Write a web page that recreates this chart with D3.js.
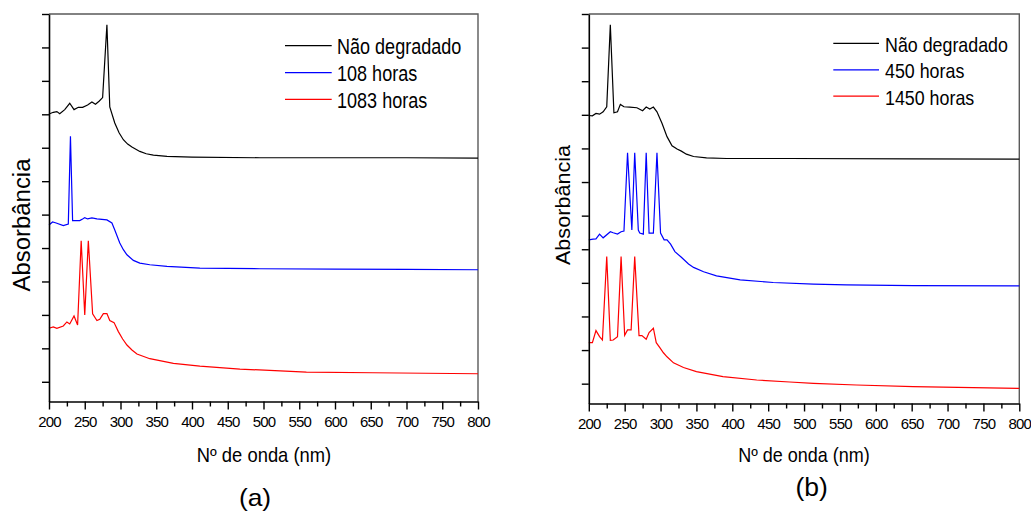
<!DOCTYPE html>
<html>
<head>
<meta charset="utf-8">
<script src="https://cdn.jsdelivr.net/npm/d3@7"></script>
<style>
  body { margin: 0; background: #fff; }
  svg { display: block; }
  text { font-family: "Liberation Sans", Arial, Helvetica, sans-serif; fill: #000; }
</style>
</head>
<body>
<svg id="chart" width="1031" height="512"></svg>
<script>
// Axis ticks
const wavelengthTicks = d3.range(200, 801, 50);
const wavelengthMinorTicks = d3.range(225, 800, 50);
const absorbanceTicks = d3.range(0, 12);

// Legends and colours
const seriesLabelsA = ["Não degradado", "108 horas", "1083 horas"];
const seriesLabelsB = ["Não degradado", "450 horas", "1450 horas"];
const seriesColors = ["#000000", "#0000ff", "#ff0000"];

// Panel (a): UV-vis spectra, offset absorbance, [nm, A]
const naoDegradadoA = [
  [200, 8.01], [206, 8.06], [211, 8.08], [215, 8.02], [222, 8.14], [229, 8.33], [235, 8.14],
  [241, 8.21], [247, 8.21], [254, 8.28], [260, 8.37], [265, 8.30], [270, 8.39], [275, 8.50],
  [281, 10.68], [285, 8.22], [292, 7.74], [298, 7.45], [304, 7.24], [310, 7.11], [316, 7.02],
  [327, 6.89], [336, 6.82], [346, 6.78], [365, 6.74], [400, 6.72], [495, 6.70], [600, 6.70],
  [700, 6.70], [800, 6.69]
];
const horas108 = [
  [200, 4.69], [205, 4.78], [210, 4.75], [220, 4.67], [227, 4.72], [230, 7.34], [233, 4.82],
  [243, 4.82], [247, 4.87], [250, 4.91], [254, 4.87], [260, 4.90], [267, 4.87], [281, 4.84],
  [288, 4.75], [292, 4.54], [299, 4.15], [304, 3.95], [309, 3.80], [318, 3.63], [327, 3.55],
  [341, 3.50], [365, 3.45], [411, 3.40], [495, 3.38], [600, 3.37], [700, 3.36], [800, 3.35]
];
const horas1083 = [
  [200, 1.60], [206, 1.64], [211, 1.60], [220, 1.67], [225, 1.79], [229, 1.73], [235, 1.97],
  [240, 1.70], [245, 4.22], [250, 2.00], [255, 4.22], [261, 2.03], [267, 1.83], [271, 1.87],
  [276, 2.04], [281, 2.04], [285, 1.83], [291, 1.77], [297, 1.50], [303, 1.28], [309, 1.10],
  [316, 0.95], [323, 0.83], [341, 0.69], [374, 0.55], [411, 0.47], [467, 0.38], [560, 0.29],
  [653, 0.27], [800, 0.24]
];

// Panel (b)
const naoDegradadoB = [
  [200, 7.98], [205, 7.97], [210, 8.04], [215, 8.02], [220, 8.09], [225, 8.24], [230, 10.68],
  [235, 8.06], [240, 8.09], [244, 8.31], [249, 8.24], [257, 8.23], [267, 8.21], [275, 8.12],
  [280, 8.23], [285, 8.17], [290, 8.23], [295, 8.09], [302, 7.75], [309, 7.35], [316, 7.08],
  [323, 6.98], [329, 6.92], [336, 6.83], [346, 6.76], [364, 6.72], [392, 6.70], [480, 6.70],
  [650, 6.69], [800, 6.68]
];
const horas450 = [
  [200, 4.28], [206, 4.30], [210, 4.31], [215, 4.45], [220, 4.34], [230, 4.52], [234, 4.49],
  [240, 4.45], [245, 4.52], [249, 4.54], [254, 6.87], [260, 4.57], [264, 6.87], [269, 4.57],
  [271, 4.48], [276, 4.45], [280, 6.87], [284, 4.48], [290, 4.48], [295, 6.87], [300, 4.48],
  [305, 4.28], [309, 4.28], [314, 4.15], [320, 3.93], [329, 3.76], [339, 3.56], [346, 3.46],
  [360, 3.33], [378, 3.21], [411, 3.09], [457, 3.01], [513, 2.96], [559, 2.94], [652, 2.92],
  [800, 2.91]
];
const horas1450 = [
  [200, 1.22], [205, 1.22], [210, 1.58], [215, 1.40], [219, 1.30], [225, 3.78], [230, 1.29],
  [234, 1.30], [240, 1.40], [245, 3.78], [250, 1.44], [254, 1.60], [259, 1.60], [264, 3.78],
  [270, 1.43], [274, 1.43], [280, 1.32], [284, 1.52], [290, 1.65], [294, 1.22], [299, 1.07],
  [304, 0.92], [309, 0.80], [318, 0.62], [332, 0.48], [350, 0.36], [387, 0.21], [434, 0.11],
  [480, 0.05], [513, 0.01], [573, -0.04], [652, -0.09], [800, -0.14]
];

const panels = [
  {
    series: [naoDegradadoA, horas108, horas1083], labels: seriesLabelsA,
    left: 49, right: 478, top: 14, bottom: 401.5,
    legend: { x0: 285, x1: 331.7, tx: 337, y: [45.7, 72.7, 99.3], size: 22, sx: 0.82 },
    yTitle: { x: 29.5, y: 225, size: 23, sx: 1.04 },
    xTitle: { x: 264, y: 461.7, size: 20, sx: 0.92 },
    tag: { text: "(a)", x: 255, y: 505.5, size: 24, sx: 1.1 }
  },
  {
    series: [naoDegradadoB, horas450, horas1450], labels: seriesLabelsB,
    left: 588.8, right: 1019.3, top: 14, bottom: 403.5,
    legend: { x0: 833.3, x1: 879, tx: 885, y: [43.3, 69.8, 96.2], size: 21, sx: 0.85 },
    yTitle: { x: 570, y: 205, size: 21, sx: 1.03 },
    xTitle: { x: 804, y: 461.7, size: 20, sx: 0.9 },
    tag: { text: "(b)", x: 811.7, y: 496, size: 26.5, sx: 1.0 }
  }
];

const svg = d3.select("#chart");

function addText(g, str, x, y, size, sx, rotate) {
  return g.append("text")
    .attr("text-anchor", "middle")
    .attr("font-size", size)
    .attr("transform", `translate(${x},${y})` + (rotate ? ` rotate(${rotate})` : "") + ` scale(${sx},1)`)
    .text(str);
}

panels.forEach(p => {
  const g = svg.append("g");
  const x = d3.scaleLinear().domain([200, 800]).range([p.left, p.right]);
  const y = d3.scaleLinear().domain([-0.59, 11]).range([p.bottom, p.top]);

  // frame: top and right edges
  g.append("path")
    .attr("d", `M${p.left},${p.top}H${p.right}V${p.bottom}`)
    .attr("fill", "none").attr("stroke", "#5a5a5a").attr("stroke-width", 1.4);

  // spectra
  const line = d3.line().x(d => x(d[0])).y(d => y(d[1]));
  p.series.forEach((s, i) => {
    g.append("path").datum(s)
      .attr("d", line)
      .attr("fill", "none")
      .attr("stroke", seriesColors[i])
      .attr("stroke-width", 1.2)
      .attr("stroke-linejoin", "miter");
  });

  // x axis: minor then major ticks
  const xMinor = g.append("g").attr("transform", `translate(0,${p.bottom})`)
    .call(d3.axisBottom(x).tickValues(wavelengthMinorTicks).tickSize(5).tickSizeOuter(0).tickFormat(""));
  xMinor.select(".domain").remove();
  const xMajor = g.append("g").attr("transform", `translate(0,${p.bottom})`)
    .call(d3.axisBottom(x).tickValues(wavelengthTicks).tickSize(8).tickSizeOuter(0).tickPadding(6.5).tickFormat(d3.format("d")));
  [xMinor, xMajor].forEach(a => a.selectAll("line").attr("stroke", "#000").attr("stroke-width", 1.4));
  xMajor.select(".domain").attr("stroke", "#000").attr("stroke-width", 1.6);
  xMajor.selectAll("text")
    .attr("font-family", '"Liberation Sans", Arial, sans-serif')
    .attr("font-size", 15)
    .attr("letter-spacing", "-0.8px")
    .attr("fill", "#000");

  // y axis, unlabelled ticks
  const yAxis = g.append("g").attr("transform", `translate(${p.left},0)`)
    .call(d3.axisLeft(y).tickValues(absorbanceTicks).tickSize(7).tickSizeOuter(0).tickFormat(""));
  yAxis.selectAll("line").attr("stroke", "#000").attr("stroke-width", 1.4);
  yAxis.select(".domain").attr("stroke", "#000").attr("stroke-width", 1.6);

  // legend
  p.labels.forEach((lab, i) => {
    const ly = p.legend.y[i];
    g.append("line")
      .attr("x1", p.legend.x0).attr("x2", p.legend.x1)
      .attr("y1", ly).attr("y2", ly)
      .attr("stroke", seriesColors[i]).attr("stroke-width", 1.2);
    g.append("text")
      .attr("font-size", p.legend.size)
      .attr("transform", `translate(${p.legend.tx},${ly + 8.3}) scale(${p.legend.sx},1)`)
      .text(lab);
  });

  // titles
  addText(g, "Absorbância", p.yTitle.x, p.yTitle.y, p.yTitle.size, p.yTitle.sx, -90);
  addText(g, "Nº de onda (nm)", p.xTitle.x, p.xTitle.y, p.xTitle.size, p.xTitle.sx);
  addText(g, p.tag.text, p.tag.x, p.tag.y, p.tag.size, p.tag.sx);
});
</script>
</body>
</html>
